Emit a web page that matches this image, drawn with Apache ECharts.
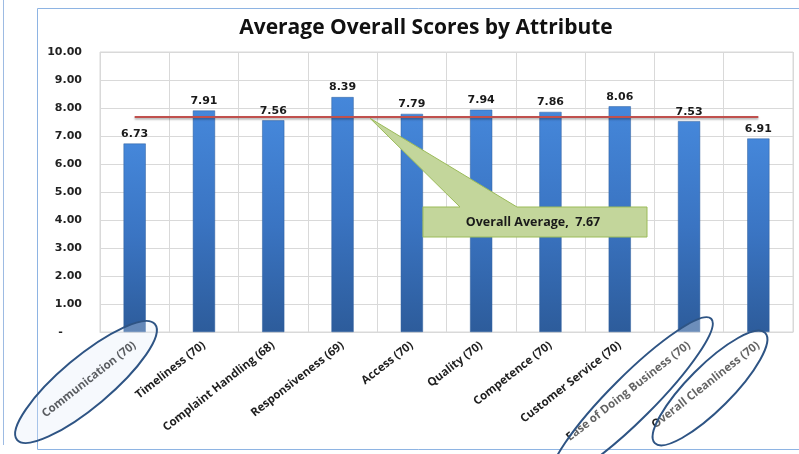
<!DOCTYPE html>
<html>
<head>
<meta charset="utf-8">
<script src="https://cdn.jsdelivr.net/npm/echarts@6/dist/echarts.min.js"></script>
<style>
  html, body { margin: 0; padding: 0; background: #ffffff; }
  #chart { width: 799px; height: 454px; }
</style>
</head>
<body>
<div id="chart"></div>
<script>
// Attribute names with respondent counts
const categories = [
  'Communication (70)', 'Timeliness (70)', 'Complaint Handling (68)',
  'Responsiveness (69)', 'Access (70)', 'Quality (70)', 'Competence (70)',
  'Customer Service (70)', 'Ease of Doing Business (70)', 'Overall Cleanliness (70)'
];
// Average score per attribute
const scores = [6.73, 7.91, 7.56, 8.39, 7.79, 7.94, 7.86, 8.06, 7.53, 6.91];
// Overall average across attributes
const overallAverage = 7.67;
const calloutText = 'Overall Average,  7.67';
const titleText = 'Average Overall Scores by Attribute';

const chart = echarts.init(document.getElementById('chart'), null, { renderer: 'canvas' });

const gridColor = '#d9d9d9';

const option = {
  animation: false,
  backgroundColor: '#ffffff',
  title: {
    text: titleText,
    left: 421,
    textAlign: 'center',
    top: 13,
    textStyle: { fontFamily: 'Open Sans', fontWeight: 'bold', fontSize: 21, color: '#111111' }
  },
  grid: {
    left: 100, top: 52, right: 6, bottom: 122,
    show: true, borderColor: gridColor, borderWidth: 1
  },
  xAxis: {
    type: 'category',
    data: categories,
    boundaryGap: true,
    axisLine: { show: true, lineStyle: { color: gridColor } },
    axisTick: { show: false },
    splitLine: { show: true, interval: 0, lineStyle: { color: gridColor } },
    axisLabel: {
      interval: 0,
      rotate: 38,
      margin: 12,
      fontFamily: 'Open Sans',
      fontWeight: 'bold',
      fontSize: 11.5,
      color: '#1e1e1e'
    }
  },
  yAxis: {
    type: 'value',
    min: 0, max: 10, interval: 1,
    axisLine: { show: false },
    axisTick: { show: false },
    splitLine: { lineStyle: { color: gridColor } },
    axisLabel: {
      margin: 18,
      fontFamily: 'DejaVu Sans',
      fontWeight: 'bold',
      fontSize: 11,
      color: '#222222',
      formatter: v => (v === 0 ? '-     ' : v.toFixed(2))
    }
  },
  series: [{
    type: 'bar',
    data: scores,
    barWidth: '32%',
    itemStyle: {
      color: new echarts.graphic.LinearGradient(0, 0, 0, 1, [
        { offset: 0, color: '#4587da' },
        { offset: 0.5, color: '#3a74c2' },
        { offset: 1, color: '#2d5c9b' }
      ]),
      borderColor: '#2f5f9c',
      borderWidth: 0.5
    },
    label: {
      show: true,
      position: 'top',
      distance: 4,
      fontFamily: 'DejaVu Sans',
      fontWeight: 'bold',
      fontSize: 11,
      color: '#1a1a1a',
      formatter: p => p.value.toFixed(2)
    },
    markLine: {
      silent: true,
      symbol: 'none',
      label: { show: false },
      lineStyle: {
        type: 'solid',
        color: '#c0504d',
        width: 2,
        shadowColor: 'rgba(0,0,0,0.35)',
        shadowBlur: 2,
        shadowOffsetY: 1.5
      },
      data: [[
        { xAxis: 0, yAxis: overallAverage },
        { xAxis: categories.length - 1, yAxis: overallAverage }
      ]]
    }
  }]
};

chart.setOption(option);

// Callout pointing at the average line, plus the frame and highlight ellipses
const avgY = chart.convertToPixel({ yAxisIndex: 0 }, overallAverage);
const tipX = 370;
const box = { x: 423, y: 207, w: 224, h: 30 };

function ellipse(cx, cy, rx, ry, deg, fill) {
  return {
    type: 'ellipse',
    x: cx, y: cy,
    rotation: deg * Math.PI / 180,
    shape: { cx: 0, cy: 0, rx: rx, ry: ry },
    style: { fill: fill, stroke: '#2e5484', lineWidth: 2 },
    z: 100
  };
}

chart.setOption({
  graphic: [
    // side panel edge and chart frame
    { type: 'line', shape: { x1: 3.5, y1: 0, x2: 3.5, y2: 445 }, style: { stroke: '#9dbbe3', lineWidth: 1 }, z: 1 },
    { type: 'rect', shape: { x: 37.5, y: 8.5, width: 800, height: 441 }, style: { fill: null, stroke: '#8eb4e3', lineWidth: 1 }, z: 1 },
    // callout shape
    {
      type: 'polygon',
      shape: {
        points: [
          [box.x, box.y], [460, box.y], [tipX, avgY + 1], [517, box.y],
          [box.x + box.w, box.y], [box.x + box.w, box.y + box.h], [box.x, box.y + box.h]
        ]
      },
      style: { fill: '#c3d69b', stroke: '#9bbb59', lineWidth: 1 },
      z: 50
    },
    {
      type: 'text',
      x: box.x + box.w / 2 - 2,
      y: box.y + box.h / 2,
      style: {
        text: calloutText,
        fontFamily: 'Open Sans', fontWeight: 'bold', fontSize: 12.5,
        fill: '#1a1a1a', align: 'center', verticalAlign: 'middle'
      },
      z: 51
    },
    // highlight ellipses around selected attributes
    ellipse(86, 382, 90, 25, 40, 'rgba(225,234,247,0.3)'),
    ellipse(632, 398, 112, 22, 45, 'rgba(255,255,255,0.3)'),
    ellipse(710, 388, 78, 22, 45, 'rgba(255,255,255,0.3)')
  ]
});
</script>
</body>
</html>
